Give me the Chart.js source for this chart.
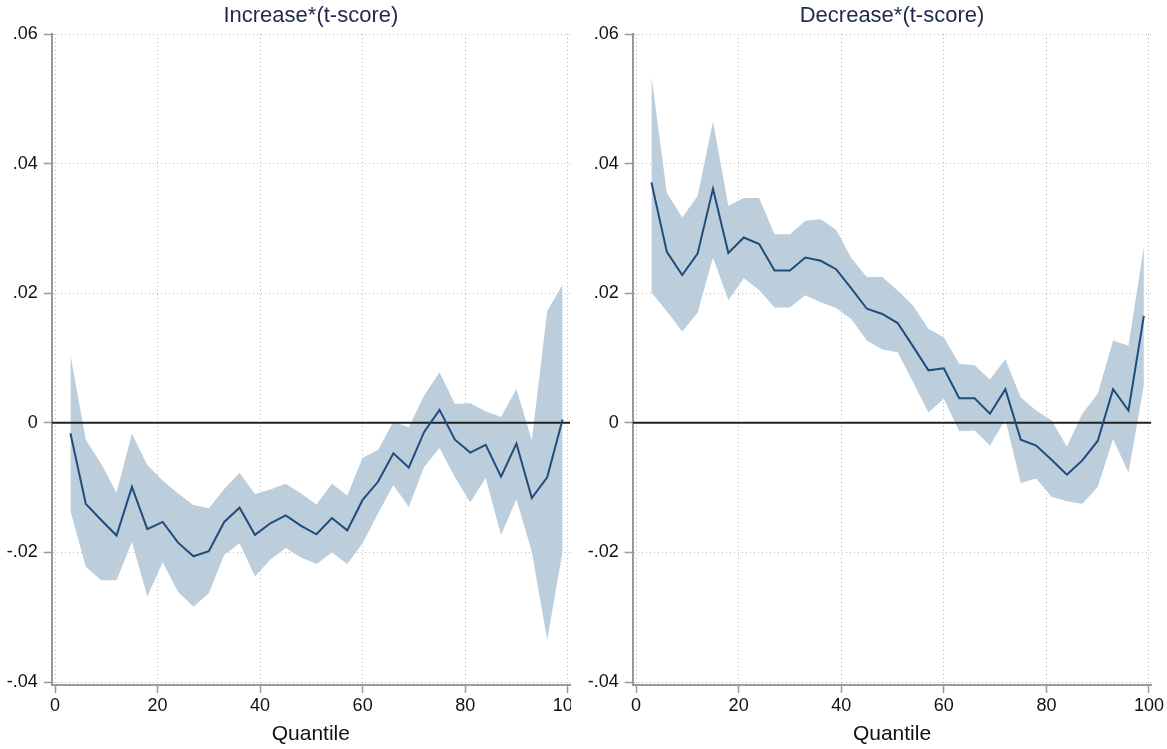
<!DOCTYPE html>
<html>
<head>
<meta charset="utf-8">
<script src="https://cdn.jsdelivr.net/npm/chart.js@4.4.1/dist/chart.umd.min.js"></script>
<style>
  body { margin: 0; width: 1167px; height: 749px; overflow: hidden; background: #fff; position: relative; }
  .wrap { position: absolute; top: 0; height: 749px; overflow: hidden; }
</style>
</head>
<body>
<div class="wrap" style="left:0; width:571px"><canvas id="incChart" width="620" height="749"></canvas></div>
<div class="wrap" style="left:580px; width:587px"><canvas id="decChart" width="620" height="749"></canvas></div>
<script>
// quantile points
const quantiles = [3, 6, 9, 12, 15, 18, 21, 24, 27, 30, 33, 36, 39, 42, 45, 48, 51, 54, 57, 60, 63, 66, 69, 72, 75, 78, 81, 84, 87, 90, 93, 96, 99];

// Increase*(t-score)
const incCoef = [-0.0016, -0.0125, -0.0150, -0.0174, -0.0099, -0.0164, -0.0153, -0.0185, -0.0206, -0.0198,
  -0.0153, -0.0131, -0.0173, -0.0155, -0.0143, -0.0159, -0.0172, -0.0147, -0.0166, -0.0119,
  -0.0091, -0.0047, -0.0069, -0.0014, 0.0020, -0.0026, -0.0046, -0.0034, -0.0083, -0.0032,
  -0.0116, -0.0084, 0.0005];
const incUpper = [0.0105, -0.0026, -0.0063, -0.0108, -0.0017, -0.0065, -0.0089, -0.0109, -0.0127, -0.0132,
  -0.0102, -0.0077, -0.0110, -0.0103, -0.0094, -0.0109, -0.0126, -0.0094, -0.0112, -0.0054,
  -0.0042, 0.0002, -0.0007, 0.0042, 0.0078, 0.0029, 0.0030, 0.0018, 0.0009, 0.0052,
  -0.0027, 0.0172, 0.0213];
const incLower = [-0.0136, -0.0222, -0.0243, -0.0243, -0.0184, -0.0268, -0.0215, -0.0261, -0.0284, -0.0263,
  -0.0204, -0.0186, -0.0237, -0.0211, -0.0193, -0.0208, -0.0218, -0.0200, -0.0218, -0.0186,
  -0.0140, -0.0096, -0.0130, -0.0068, -0.0039, -0.0084, -0.0123, -0.0085, -0.0173, -0.0118,
  -0.0199, -0.0335, -0.0199];

// Decrease*(t-score)
const decCoef = [0.0371, 0.0264, 0.0228, 0.0261, 0.0361, 0.0262, 0.0286, 0.0276, 0.0235, 0.0235,
  0.0255, 0.0250, 0.0237, 0.0207, 0.0176, 0.0168, 0.0154, 0.0118, 0.0081, 0.0084,
  0.0038, 0.0038, 0.0014, 0.0052, -0.0026, -0.0035, -0.0057, -0.0080, -0.0058, -0.0028,
  0.0052, 0.0019, 0.0165];
const decUpper = [0.0535, 0.0355, 0.0317, 0.0350, 0.0465, 0.0335, 0.0347, 0.0347, 0.0291, 0.0291,
  0.0312, 0.0314, 0.0298, 0.0254, 0.0225, 0.0225, 0.0204, 0.0181, 0.0145, 0.0132,
  0.0091, 0.0089, 0.0067, 0.0098, 0.0039, 0.0019, 0.0004, -0.0037, 0.0014, 0.0045,
  0.0127, 0.0119, 0.0272];
const decLower = [0.0201, 0.0172, 0.0141, 0.0170, 0.0255, 0.0189, 0.0223, 0.0205, 0.0178, 0.0178,
  0.0197, 0.0186, 0.0177, 0.0160, 0.0127, 0.0113, 0.0109, 0.0063, 0.0016, 0.0037,
  -0.0013, -0.0012, -0.0035, 0.0005, -0.0093, -0.0086, -0.0114, -0.0121, -0.0125, -0.0099,
  -0.0025, -0.0077, 0.0057];

// axes
const xTicks = [0, 20, 40, 60, 80, 100];
const yTicks = [-0.04, -0.02, 0, 0.02, 0.04, 0.06];
const yTickLabels = ['-.04', '-.02', '0', '.02', '.04', '.06'];
const xMin = -0.65, xMax = 100.45;
const yMin = -0.04046, yMax = 0.06;

const FONT = '"Liberation Sans", Arial, sans-serif';
const BAND = '#bccddb';
const LINE = '#1f4c7a';
const GRID = '#b8b8b8';
const AXIS = '#9a9a9a';

const pts = (ys) => quantiles.map((q, i) => ({ x: q, y: ys[i] }));

const makeChart = (id, title, coef, upper, lower, yAxisWidth, padRight) => {
  const data = {
    datasets: [
      { data: pts(upper), fill: '+1', backgroundColor: BAND, borderWidth: 0, pointRadius: 0, order: 3 },
      { data: pts(lower), fill: false, borderWidth: 0, pointRadius: 0, order: 3 },
      { data: [{ x: xMin, y: 0 }, { x: xMax, y: 0 }], borderColor: '#222', borderWidth: 2, pointRadius: 0, fill: false, order: 2 },
      { data: pts(coef), borderColor: LINE, borderWidth: 2, pointRadius: 0, fill: false, order: 1 }
    ]
  };

  const config = {
    type: 'line',
    data,
    options: {
      responsive: false,
      animation: false,
      events: [],
      layout: { padding: { left: 0, right: padRight, top: 0, bottom: 0 } },
      plugins: {
        legend: { display: false },
        tooltip: { enabled: false },
        title: {
          display: true,
          text: title,
          fullSize: false,
          color: '#1f2a48',
          font: { family: FONT, size: 22, weight: 'normal' },
          padding: { top: 2.5, bottom: 5.1 }
        }
      },
      scales: {
        x: {
          type: 'linear',
          min: xMin,
          max: xMax,
          afterBuildTicks: (scale) => { scale.ticks = xTicks.map(v => ({ value: v })); },
          afterFit: (scale) => { scale.height = 64; },
          ticks: { color: '#111', font: { family: FONT, size: 18 }, padding: 2, maxRotation: 0, autoSkip: false },
          grid: { color: GRID, lineWidth: 1, tickLength: 8, tickColor: AXIS, tickWidth: 1.5 },
          border: { display: true, color: AXIS, width: 2, dash: [1, 3] },
          title: { display: true, text: 'Quantile', color: '#111', font: { family: FONT, size: 21 }, padding: { top: 0, bottom: 2.4 } }
        },
        y: {
          min: yMin,
          max: yMax,
          afterBuildTicks: (scale) => { scale.ticks = yTicks.map(v => ({ value: v })); },
          afterFit: (scale) => { scale.width = yAxisWidth; },
          ticks: { color: '#111', font: { family: FONT, size: 18 }, padding: 6, callback: (v, i) => yTickLabels[i] },
          grid: { color: GRID, lineWidth: 1, tickLength: 8, tickColor: AXIS, tickWidth: 1.5 },
          border: { display: true, color: AXIS, width: 2, dash: [1, 3] }
        }
      }
    }
  };

  return new Chart(document.getElementById(id), config);
};

makeChart('incChart', 'Increase*(t-score)', incCoef, incUpper, incLower, 51.7, 50);
makeChart('decChart', 'Decrease*(t-score)', decCoef, decUpper, decLower, 52.7, 48.7);
</script>
</body>
</html>
